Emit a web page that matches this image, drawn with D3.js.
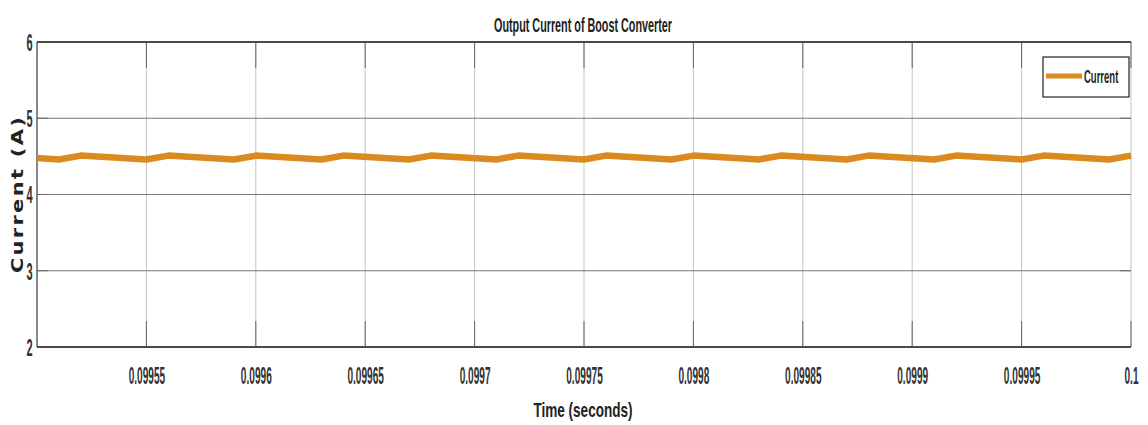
<!DOCTYPE html>
<html>
<head>
<meta charset="utf-8">
<script src="https://cdn.jsdelivr.net/npm/d3@7"></script>
<style>
  body { margin: 0; background: #fff; }
  text { font-family: "Liberation Sans", Arial, sans-serif; fill: #222; }
</style>
</head>
<body>
<div id="chart"></div>
<script>
// time (s) and output current (A)
var time = [0.0995, 0.09951, 0.09952, 0.09955, 0.09956, 0.09959, 0.0996, 0.09963, 0.09964,
            0.09967, 0.09968, 0.09971, 0.09972, 0.09975, 0.09976, 0.09979, 0.0998, 0.09983,
            0.09984, 0.09987, 0.09988, 0.09991, 0.09992, 0.09995, 0.09996, 0.09999, 0.1];
var current = [4.48, 4.46, 4.51, 4.46, 4.51, 4.46, 4.51, 4.46, 4.51,
               4.46, 4.51, 4.46, 4.51, 4.46, 4.51, 4.46, 4.51, 4.46,
               4.51, 4.46, 4.51, 4.46, 4.51, 4.46, 4.51, 4.46, 4.51];

var xTicks = [0.09955, 0.0996, 0.09965, 0.0997, 0.09975, 0.0998, 0.09985, 0.0999, 0.09995, 0.1];
var xTickLabels = ["0.09955", "0.0996", "0.09965", "0.0997", "0.09975", "0.0998", "0.09985", "0.0999", "0.09995", "0.1"];
var yTicks = [2, 3, 4, 5, 6];

var W = 1148, H = 425;
var margin = {top: 42, right: 17, bottom: 78, left: 37},
    width = W - margin.left - margin.right,
    height = H - margin.top - margin.bottom;

var svg = d3.select("#chart").append("svg")
    .attr("width", W)
    .attr("height", H);

var g = svg.append("g")
    .attr("transform", "translate(" + margin.left + "," + margin.top + ")");

var x = d3.scaleLinear().domain([0.0995, 0.1]).range([0, width]);
var y = d3.scaleLinear().domain([2, 6]).range([height, 0]);

// grid
g.append("g").selectAll("line")
  .data(xTicks)
  .enter().append("line")
    .attr("x1", d => x(d)).attr("x2", d => x(d))
    .attr("y1", 0).attr("y2", height)
    .style("stroke", "#c4c4c4").style("stroke-width", 1);

g.append("g").selectAll("line")
  .data([3, 4, 5])
  .enter().append("line")
    .attr("x1", 0).attr("x2", width)
    .attr("y1", d => y(d)).attr("y2", d => y(d))
    .style("stroke", "#777").style("stroke-width", 1);

// inner tick marks (matlab style)
var tk = g.append("g").style("stroke", "#666").style("stroke-width", 1);
xTicks.forEach(function(d){
  tk.append("line").attr("x1", x(d)).attr("x2", x(d)).attr("y1", height).attr("y2", height - 26);
  tk.append("line").attr("x1", x(d)).attr("x2", x(d)).attr("y1", 0).attr("y2", 26);
});
yTicks.forEach(function(d){
  tk.append("line").attr("x1", 0).attr("x2", 11).attr("y1", y(d)).attr("y2", y(d));
  tk.append("line").attr("x1", width).attr("x2", width - 11).attr("y1", y(d)).attr("y2", y(d));
});

// frame
g.append("line").attr("x1", 0).attr("x2", width).attr("y1", 0).attr("y2", 0)
  .style("stroke", "#4a4a4a").style("stroke-width", 1.8);
g.append("line").attr("x1", 0).attr("x2", width).attr("y1", height).attr("y2", height)
  .style("stroke", "#4a4a4a").style("stroke-width", 1.8);
g.append("line").attr("x1", 0).attr("x2", 0).attr("y1", 0).attr("y2", height)
  .style("stroke", "#555").style("stroke-width", 1.4);

// x axis labels
var xAxis = d3.axisBottom(x).tickValues(xTicks)
  .tickFormat((d, i) => xTickLabels[i]).tickSize(0);
var xa = g.append("g").attr("transform", "translate(0," + height + ")").call(xAxis);
xa.select(".domain").remove();
xa.selectAll("text")
  .attr("y", 37).attr("dy", 0)
  .style("font-size", "23px").style("font-weight", "bold").style("fill", "#333")
  .attr("transform", "scale(0.44,1)");

// y axis labels
var yAxis = d3.axisLeft(y).tickValues(yTicks).tickFormat(d3.format("d")).tickSize(0);
var ya = g.append("g").call(yAxis);
ya.select(".domain").remove();
ya.selectAll("text")
  .attr("x", -9).attr("dy", "0.36em")
  .style("font-size", "23px").style("font-weight", "bold").style("fill", "#333")
  .attr("transform", "scale(0.48,1)");

// the trace
var line = d3.line()
  .x((d, i) => x(time[i]))
  .y(d => y(d));

g.append("path")
  .datum(current)
  .attr("d", line)
  .style("fill", "none")
  .style("stroke", "#da8a1e")
  .style("stroke-width", 6.5)
  .style("stroke-linejoin", "round");

// title and axis titles
svg.append("text")
  .attr("x", 583).attr("y", 32)
  .attr("text-anchor", "middle")
  .attr("textLength", 178).attr("lengthAdjust", "spacingAndGlyphs")
  .style("font-size", "21px").style("font-weight", "bold")
  .text("Output Current of Boost Converter");

svg.append("text")
  .attr("x", 583).attr("y", 417)
  .attr("text-anchor", "middle")
  .attr("textLength", 99).attr("lengthAdjust", "spacingAndGlyphs")
  .style("font-size", "21px").style("font-weight", "bold")
  .text("Time (seconds)");

svg.append("text")
  .attr("transform", "translate(23,194) rotate(-90) scale(1,0.72)")
  .attr("text-anchor", "middle")
  .style("font-family", "'DejaVu Sans', sans-serif")
  .style("font-size", "21px").style("font-weight", "bold")
  .style("letter-spacing", "2.3px")
  .text("Current (A)");

// legend
var lg = svg.append("g").attr("transform", "translate(1043,57)");
lg.append("rect")
  .attr("width", 86).attr("height", 40)
  .style("fill", "#fff").style("stroke", "#222").style("stroke-width", 1.2);
lg.append("line")
  .attr("x1", 3).attr("x2", 39).attr("y1", 19).attr("y2", 19)
  .style("stroke", "#da8a1e").style("stroke-width", 5);
lg.append("text")
  .attr("transform", "translate(41,26) scale(0.5,1)")
  .style("font-size", "19px").style("font-weight", "bold")
  .text("Current");
</script>
</body>
</html>
